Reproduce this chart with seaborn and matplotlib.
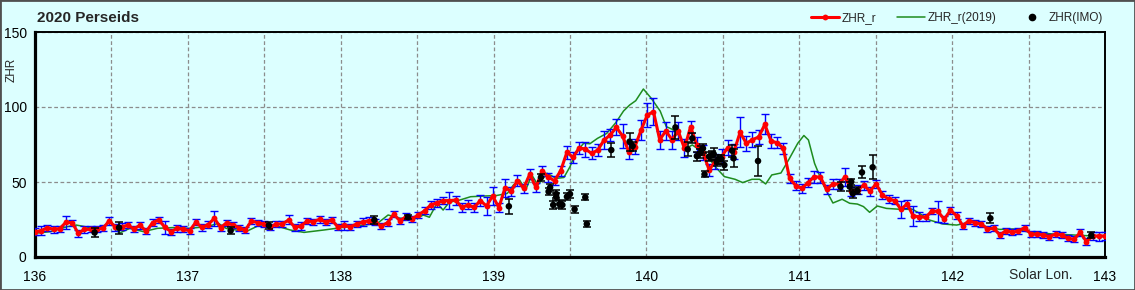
import numpy as np
import pandas as pd
import matplotlib
matplotlib.use("Agg")
import matplotlib.pyplot as plt
import matplotlib.patches as patches
from matplotlib.lines import Line2D
import seaborn as sns

# ---------------- data ----------------
zhr_r = [
    16.9, 17.5, 19.6, 18.4, 19.0, 23.1, 22.9, 15.8, 18.4, 18.4,
    18.7, 19.1, 24.2, 19.8, 20.2, 21.1, 18.9, 21.1, 17.1, 22.9,
    24.7, 19.8, 16.9, 19.1, 18.4, 17.6, 23.1, 19.8, 21.6, 25.8,
    19.6, 22.9, 21.3, 19.6, 18.0, 24.0, 22.9, 22.0, 19.8, 22.0,
    22.0, 24.7, 19.8, 20.7,
    24.0, 23.6, 25.1, 23.3, 24.7, 19.8, 21.1, 20.2, 22.0, 23.3,
    24.2, 23.3, 20.7, 22.9, 28.4, 24.2, 26.9, 25.6, 28.0, 30.9,
    34.7, 36.2, 37.6, 37.6, 38.0, 33.1, 34.7, 33.1, 37.6, 34.0,
    40.7, 32.9, 46.2, 44.0, 50.9, 45.8, 55.3, 46.4, 57.6, 53.1,
    50.9, 57.6, 69.8, 66.4,
    72.9, 71.8, 69.1, 71.3, 78.0, 81.3, 86.4, 80.7, 70.2, 73.6,
    84.7, 94.7, 96.9, 78.2, 84.0, 78.2, 84.0, 72.4, 86.9, 74.7,
    69.6, 58.0, 64.0, 66.9, 72.9, 70.2, 83.1, 75.8, 78.2, 80.0,
    88.4, 77.3, 76.2, 72.4, 52.4, 47.6, 45.8, 49.6, 53.6, 53.1,
    45.1, 48.7, 48.7, 53.6,
    44.0, 44.7, 47.8, 44.0, 48.7, 41.3, 38.7, 37.6, 31.8, 35.3,
    27.3, 26.9, 26.4, 30.7, 30.4, 25.1, 31.1, 27.6, 20.9, 24.2,
    22.9, 22.0, 18.7, 19.1, 14.7, 17.6, 16.4, 17.3, 19.6, 15.3,
    15.1, 14.7, 13.6, 15.3, 14.7, 12.4, 11.8, 16.4, 10.2, 14.0,
    14.0, 14.0,
]
zhr_r_err = [
    2.5, 3.1, 2, 2.5, 2, 4.4, 2, 2.5, 2.5, 2,
    2, 2, 2.7, 2.5, 2.5, 2, 2, 2.4, 2, 2.5,
    2, 4.4, 2, 2.2, 2, 2, 2, 2.5, 2.2, 5.1,
    2, 2, 2, 2, 2, 2, 2, 2, 2, 2,
    2, 3, 2.5, 2.9,
    2, 2, 2.2, 2, 2, 2, 3, 2, 2.2, 2.5,
    2.5, 2, 2, 2.2, 2, 2, 2.5, 2, 2, 2.2,
    2.9, 2.7, 2.2, 5.5, 3, 3, 3, 3, 3.5, 6.2,
    5.8, 3, 6, 3, 3.8, 3, 3.3, 3, 3.3, 3,
    3, 3.3, 4.4, 3.5,
    4, 5.1, 4, 3.8, 6.2, 4, 5.3, 8, 5.1, 5,
    6.7, 7.8, 8.9, 6, 6, 6, 6, 6, 4, 5,
    5, 4, 5, 5, 5, 5, 10, 5, 5, 4.9,
    6.7, 4.7, 3.6, 3.5, 3, 3, 3, 2.9, 4, 3.5,
    3, 3.3, 3.3, 6,
    3, 3, 3, 3, 2.5, 2.7, 2.5, 2.5, 5.6, 2.5,
    6.7, 3, 2.5, 2, 6.9, 2.5, 2.5, 2.2, 2, 2,
    2, 2, 2, 2, 2, 2, 2, 2, 2, 2,
    2, 2, 2, 2, 2, 2, 2, 2.2, 2.5, 2.5,
    3, 2.5,
]
sol_start, sol_end = 136.0, 143.0
sol_r = np.linspace(sol_start, sol_end, len(zhr_r))

sol_2019 = [
    136.00, 136.10, 136.21, 136.27, 136.36, 136.44, 136.50, 136.55, 136.62, 136.71,
    136.80, 136.90, 137.01, 137.12, 137.20, 137.25, 137.38, 137.47, 137.56, 137.67,
    137.76, 137.89, 138.02, 138.15, 138.24, 138.31, 138.39, 138.50, 138.54, 138.58,
    138.63, 138.67, 138.71, 138.78, 138.85, 138.95, 139.02, 139.09, 139.13, 139.17,
    139.21, 139.25, 139.29, 139.35, 139.41, 139.46, 139.50, 139.54, 139.59, 139.63,
    139.68, 139.74, 139.80, 139.85, 139.89, 139.93, 139.98, 140.03, 140.09, 140.13,
    140.17, 140.22, 140.26, 140.30, 140.35, 140.40, 140.46, 140.51, 140.58, 140.63,
    140.69, 140.74, 140.78, 140.82, 140.88, 140.93, 140.99, 141.03, 141.06, 141.10,
    141.16, 141.22, 141.28, 141.33, 141.38, 141.42, 141.46, 141.51, 141.57, 141.66,
    141.74, 141.78, 141.85, 141.94, 142.03, 142.14, 142.22, 142.31, 142.40, 142.49,
    142.57, 142.66, 142.79, 142.92, 143.00,
]
zhr_2019 = [
    15.8, 16.9, 20.2, 21.3, 19.6, 20.2, 23.5, 15.8, 19.1, 16.9,
    19.1, 19.6, 19.1, 20.2, 22.4, 19.1, 16.9, 21.3, 21.3, 18.0,
    16.4, 18.0, 19.8, 21.3, 22.4, 28.0, 25.8, 25.8, 28.0, 26.5,
    35.8, 31.3, 36.5, 38.0, 40.2, 40.7, 41.0, 42.4, 48.0, 51.3,
    44.7, 54.7, 48.0, 55.8, 52.4, 53.0, 60.2, 70.2, 75.8, 75.5,
    79.1, 82.4, 89.6, 97.3, 101.3, 104.2, 112.0, 106.0, 97.3, 86.9,
    85.1, 80.2, 72.4, 74.7, 71.1, 66.9, 59.1, 53.6, 51.8, 49.6,
    51.8, 51.8, 48.7, 54.7, 56.0, 64.7, 75.8, 81.0, 78.0, 62.4,
    47.5, 36.0, 38.5, 35.8, 35.3, 33.6, 29.8, 34.0, 32.4, 31.8,
    31.8, 29.5, 24.7, 22.0, 21.3, 23.6, 20.2, 18.4, 18.7, 16.9,
    16.2, 15.3, 14.7, 14.0, 13.6,
]

sol_imo = [
    136.39, 136.55, 137.28, 137.53, 138.22, 138.44, 139.10, 139.31, 139.36, 139.37,
    139.39, 139.41, 139.41, 139.43, 139.45, 139.48, 139.50, 139.53, 139.60, 139.61,
    139.77, 139.89, 139.91, 140.19, 140.27, 140.30, 140.33, 140.35, 140.36, 140.37,
    140.38, 140.41, 140.43, 140.44, 140.46, 140.47, 140.49, 140.51, 140.56, 140.57,
    140.73, 141.27, 141.33, 141.34, 141.35, 141.38, 141.41, 141.48, 142.25, 142.91,
]
zhr_imo = [
    16.3, 19.6, 17.6, 21.1, 24.7, 26.6, 33.8, 53.1, 43.6, 46.4,
    34.7, 42.0, 40.2, 35.3, 34.7, 40.2, 42.0, 31.8, 39.8, 22.0,
    71.3, 76.9, 74.0, 86.4, 71.8, 79.1, 67.3, 69.1, 71.3, 72.4,
    55.1, 66.9, 68.0, 68.7, 63.6, 65.1, 65.3, 61.3, 70.9, 65.8,
    64.0, 46.9, 46.9, 50.2, 42.4, 44.2, 56.4, 59.8, 25.8, 14.4,
]
zhr_imo_err = [
    3, 4, 2.5, 2.5, 2.5, 1.5, 4.8, 2.5, 2.5, 2.5,
    2.5, 2.5, 2.5, 2.5, 2.5, 2.5, 2.5, 2.5, 2, 2,
    4.9, 6, 3, 7.8, 4.7, 3.3, 3, 3, 3, 3,
    2, 3, 3, 4, 3, 3, 3, 3, 4, 6,
    10.2, 3, 3, 2, 3, 2.5, 4, 8, 3.3, 2,
]

x_ticks = [136, 137, 138, 139, 140, 141, 142, 143]
y_ticks = [0, 50, 100, 150]
title = "2020 Perseids"
legend_labels = ["ZHR_r", "ZHR_r(2019)", "ZHR(IMO)"]

df_r = pd.DataFrame({"sol": sol_r, "zhr": zhr_r, "err": zhr_r_err})
df_19 = pd.DataFrame({"sol": sol_2019, "zhr": zhr_2019})
df_imo = pd.DataFrame({"sol": sol_imo, "zhr": zhr_imo, "err": zhr_imo_err})

# ---------------- style ----------------
sns.set_style("white")
plt.rcParams["font.family"] = ["Liberation Sans", "DejaVu Sans"]

bg = "#DCFFFF"
W, H = 1135, 290
fig = plt.figure(figsize=(W / 100, H / 100), dpi=100, facecolor=bg)
ax = fig.add_axes([35 / W, 1 - 257 / H, (1105 - 35) / W, (257 - 32) / H])
ax.set_facecolor(bg)

# green 2019 line
sns.lineplot(data=df_19, x="sol", y="zhr", color="#1E8C1E", lw=1.1,
             ax=ax, zorder=2, sort=False, legend=False)
# blue error bars
ax.errorbar(df_r["sol"], df_r["zhr"], yerr=df_r["err"], fmt="none",
            ecolor="#0000FF", elinewidth=1.0, capsize=2.8, capthick=1.0, zorder=3)
# red ZHR_r
sns.lineplot(data=df_r, x="sol", y="zhr", color="#FF0000", lw=2.2,
             marker="o", markersize=4.2, markeredgewidth=0,
             ax=ax, zorder=4, sort=False, legend=False)
# IMO
ax.errorbar(df_imo["sol"], df_imo["zhr"], yerr=df_imo["err"], fmt="none",
            ecolor="black", elinewidth=1.1, capsize=2.8, capthick=1.1, zorder=5)
sns.scatterplot(data=df_imo, x="sol", y="zhr", color="black", s=22,
                edgecolor="none", ax=ax, zorder=6, legend=False)

ax.set_xlim(sol_start, sol_end)
ax.set_ylim(y_ticks[0], y_ticks[-1])
ax.set_xticks(x_ticks)
ax.set_xticks(np.arange(136.5, 143, 1.0), minor=True)
ax.set_yticks(y_ticks)
ax.set_xticklabels([str(t) for t in x_ticks], fontsize=10)
ax.set_yticklabels([str(t) for t in y_ticks], fontsize=10)
ax.set_xlabel("")
ax.set_ylabel("")

ax.tick_params(axis="x", which="major", direction="in", length=4, width=1.5,
               pad=9.5, colors="black")
ax.tick_params(axis="x", which="minor", length=0)
ax.tick_params(axis="y", which="major", direction="in", length=4, width=1.5,
               pad=6, colors="black")

ax.grid(True, which="both", axis="x", color="#8C8C8C", ls=(0, (3, 2)), lw=0.9)
ax.grid(True, which="major", axis="y", color="#8C8C8C", ls=(0, (3, 2)), lw=0.9)
ax.set_axisbelow(True)

for side in ["left", "bottom"]:
    ax.spines[side].set_linewidth(2.3)
    ax.spines[side].set_color("black")
for side in ["top", "right"]:
    ax.spines[side].set_linewidth(1.4)
    ax.spines[side].set_color("black")
    ax.spines[side].set_visible(True)

# texts
fig.text(37 / W, 1 - 18 / H, title, ha="left", va="center",
         fontsize=11, fontweight="bold")
fig.text(12 / W, 1 - 70 / H, "ZHR", ha="center", va="center",
         rotation=90, fontsize=8.5)
fig.text(1041 / W, 1 - 275 / H, "Solar Lon.", ha="center", va="center",
         fontsize=10)

handles = [
    Line2D([], [], color="#FF0000", lw=2.2, marker="o", markersize=4.2, markeredgewidth=0),
    Line2D([], [], color="#1E8C1E", lw=1.1),
    Line2D([], [], color="black", ls="none", marker="o", markersize=4.5),
]
fig.legend(handles, legend_labels, loc="center right",
           bbox_to_anchor=(1103 / W, 1 - 18 / H), ncol=3, frameon=False,
           fontsize=8.5, handlelength=2.4, handletextpad=0.2,
           columnspacing=1.8, borderpad=0, borderaxespad=0, numpoints=1)

fig.add_artist(patches.Rectangle((0, 0), 1, 1, transform=fig.transFigure,
                                 fill=False, ec="#505050", lw=2.0))

fig.savefig("out.png", dpi=100, facecolor=bg)
